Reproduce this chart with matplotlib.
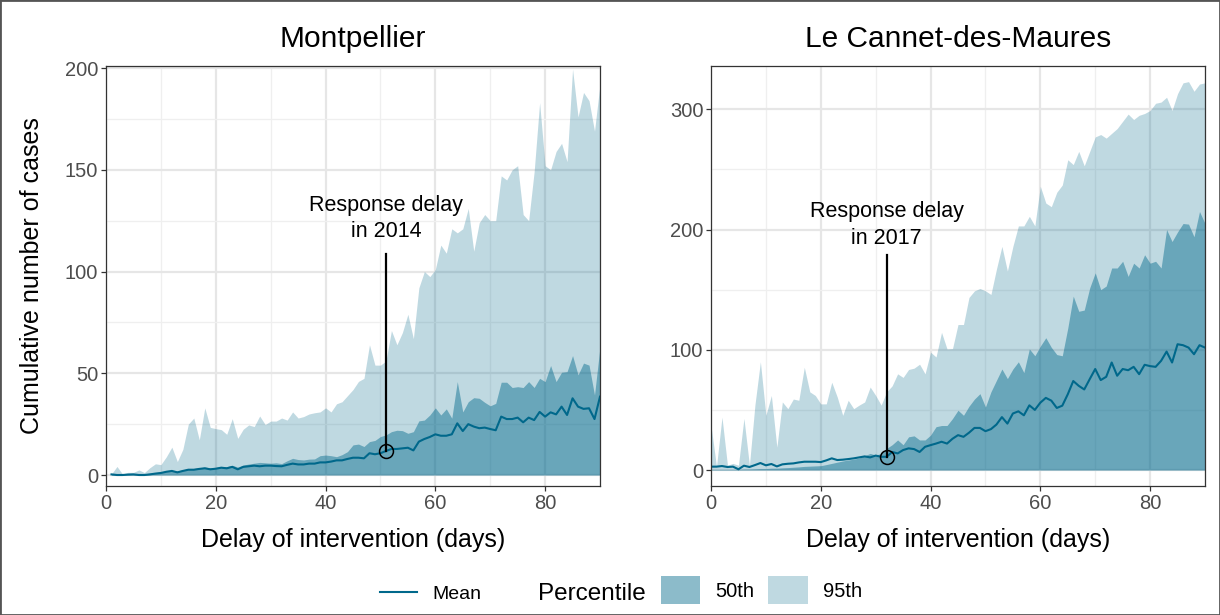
import numpy as np
import matplotlib.pyplot as plt
from matplotlib.lines import Line2D
from matplotlib.patches import Patch, Rectangle

plt.rcParams['font.family'] = ['Liberation Sans', 'DejaVu Sans']

# Montpellier, jours 1..90
mtp_days = np.arange(1, 91)
mtp_mean = [0.3, 0, 0, 0.2, 0.3, 0, 0, 0.3, 0.7, 1.0,
            1.6, 2.0, 1.3, 2.0, 2.6, 2.6, 3.0, 3.3, 2.8, 3.1,
            3.6, 3.3, 4.0, 2.8, 4.0, 4.3, 4.6, 4.3, 4.6, 4.6,
            4.4, 4.3, 5.0, 5.6, 5.2, 5.2, 5.6, 5.6, 6.2, 6.2,
            6.6, 7.2, 7.2, 7.9, 8.5, 8.5, 8.2, 10.7, 10.2, 10.7,
            11.8, 12.8, 12.8, 13.1, 13.4, 12.1, 16.4, 17.7, 18.7, 20.0,
            19.3, 19.3, 20.0, 25.4, 21.6, 25.0, 23.8, 23.0, 23.3, 22.6,
            22.0, 28.7, 27.5, 27.5, 28.2, 25.9, 28.2, 27.0, 31.0, 28.7,
            30.8, 29.8, 33.6, 29.5, 37.7, 33.6, 32.5, 32.8, 27.5, 38.5]
mtp_p50 = [0.5, 0.5, 0.4, 0.6, 0.7, 0.7, 0.6, 0.9, 1.2, 1.6,
           2.0, 2.4, 2.0, 2.5, 3.1, 3.2, 3.5, 3.9, 3.5, 3.7,
           4.2, 4.1, 4.8, 3.9, 4.9, 5.4, 5.8, 6.2, 6.0, 5.8,
           6.0, 5.6, 7.0, 8.2, 7.6, 7.4, 7.8, 7.9, 9.5, 9.8,
           9.5, 9.0, 10.0, 11.5, 14.8, 15.2, 14.0, 16.4, 17.0, 18.9,
           19.7, 21.3, 22.0, 21.8, 20.5, 21.3, 26.6, 27.0, 29.5, 33.0,
           29.5, 32.5, 27.9, 45.9, 31.0, 36.0, 38.0, 37.7, 35.7, 34.0,
           35.2, 45.6, 45.6, 43.0, 43.4, 43.0, 45.9, 43.0, 47.5, 45.9,
           53.8, 45.9, 50.5, 50.8, 58.7, 49.2, 55.0, 54.0, 39.3, 63.0]
mtp_p95 = [0.5, 4.2, 0.5, 1.3, 1.3, 2.5, 1.2, 3.6, 5.5, 5.1,
           9.0, 13.7, 6.6, 12.6, 25.0, 28.0, 17.3, 33.0, 23.4, 22.8,
           22.3, 20.0, 27.7, 18.0, 22.5, 24.6, 23.8, 29.0, 24.8, 26.5,
           26.5, 28.0, 27.0, 31.0, 28.0, 28.7, 30.0, 30.6, 31.0, 33.0,
           31.0, 35.0, 36.0, 39.0, 42.0, 46.0, 47.5, 64.0, 54.0, 54.0,
           56.0, 71.0, 64.0, 70.0, 79.0, 67.0, 92.0, 100.0, 97.5, 101.0,
           113.0, 109.0, 121.0, 119.0, 121.0, 131.0, 110.0, 124.0, 128.0, 125.0,
           125.0, 147.0, 145.0, 150.0, 152.0, 128.0, 125.0, 149.0, 183.0, 152.0,
           150.0, 159.0, 163.0, 154.0, 199.5, 176.0, 188.0, 184.0, 169.0, 192.0]

# Le Cannet-des-Maures, jours 0..90
lcm_days = np.arange(0, 91)
lcm_mean = [2.8, 2.8, 3.3, 2.5, 2.8, 0.6, 3.6, 2.5, 4.1, 5.8,
            3.9, 5.0, 3.0, 4.7, 5.2, 5.5, 6.3, 6.9, 6.9, 6.9,
            6.6, 8.0, 9.7, 8.3, 8.6, 9.1, 9.7, 10.5, 11.3, 10.5,
            12.0, 11.0, 11.0, 15.0, 13.8, 16.6, 18.0, 17.4, 15.0, 19.3,
            20.7, 22.0, 23.5, 22.0, 26.0, 29.0, 27.6, 31.0, 35.0, 35.0,
            32.3, 34.0, 37.8, 44.0, 38.6, 47.0, 48.8, 45.5, 53.8, 50.0,
            56.0, 60.0, 57.7, 51.6, 53.5, 63.0, 74.0, 70.0, 67.0, 75.6,
            84.0, 74.8, 77.5, 89.4, 78.4, 84.0, 83.0, 85.8, 79.7, 87.5,
            86.4, 85.8, 90.8, 98.5, 89.4, 104.6, 103.8, 101.8, 96.3, 103.8, 101.8]
lcm_p50 = [0.5, 0.5, 0.5, 0.5, 0.5, 0.5, 0.8, 0.8, 1.0, 1.2,
           1.2, 1.5, 1.5, 1.8, 2.0, 2.3, 2.6, 3.0, 3.2, 3.4,
           3.6, 4.5, 5.5, 6.5, 7.5, 8.3, 9.0, 10.0, 11.9, 13.8,
           12.4, 13.8, 18.0, 21.0, 25.0, 21.0, 27.6, 28.4, 25.0, 25.0,
           29.0, 36.0, 37.0, 37.0, 42.8, 49.7, 45.5, 53.0, 59.0, 63.5,
           52.4, 65.0, 74.5, 84.0, 76.0, 84.0, 90.0, 81.0, 100.7, 95.0,
           103.0, 110.0, 102.0, 96.0, 95.0, 118.0, 144.6, 132.0, 133.0, 151.5,
           164.0, 150.0, 153.0, 168.0, 168.0, 173.6, 161.0, 172.0, 168.0, 179.0,
           172.0, 173.6, 168.0, 200.0, 190.0, 198.0, 205.0, 204.5, 194.0, 215.0, 205.0]
lcm_p95 = [37, 3, 44, 4, 5.5, 4, 43, 4, 54, 90,
           45.5, 62, 19, 56.6, 51, 59, 58, 85.5, 65, 62,
           55, 55, 73, 60.7, 45.5, 58, 51, 54, 56.6, 69,
           62, 54, 65, 70, 80, 77, 83.6, 84.7, 88, 80,
           98, 94, 114.5, 100.7, 101, 121, 121, 143.5, 149, 151,
           149, 146, 167, 186, 165.5, 186, 203, 203, 211, 203,
           236, 222, 219, 231, 237, 258, 254, 265, 253, 265,
           277, 279, 276, 280, 284, 290, 296, 291.5, 295, 296.5,
           299, 305, 306, 310, 299, 313, 322, 323, 315, 321, 322]

titles = ['Montpellier', 'Le Cannet-des-Maures']
resp_days = [51, 32]
resp_labels = ['Response delay\nin 2014', 'Response delay\nin 2017']

teal = '#00688B'
W, H = 1220, 615

fig = plt.figure(figsize=(W / 100, H / 100), dpi=100)
ax1 = fig.add_axes([106 / W, 129 / H, 494 / W, 420 / H])
ax2 = fig.add_axes([711 / W, 129 / H, 494 / W, 420 / H])


def panel(ax, days, p95, p50, mean, title, rday, rlabel, ylim, yticks, yminor, text_y, line_top):
    ax.fill_between(days, 0, p95, color=teal, alpha=0.25, lw=0)
    ax.fill_between(days, 0, p50, color=teal, alpha=0.45, lw=0)
    ax.plot(days, mean, color=teal, lw=1.5)
    m = mean[list(days).index(rday)]
    ax.plot([rday, rday], [m, line_top], color='black', lw=1.6)
    ax.plot([rday], [m], marker='o', ms=10, mfc='none', mec='black', mew=1.1)
    ax.text(rday, text_y, rlabel, ha='center', va='center', fontsize=15.5, linespacing=1.35)
    ax.set_xlim(0, 90)
    ax.set_ylim(*ylim)
    ax.set_xticks([0, 20, 40, 60, 80])
    ax.set_xticks([10, 30, 50, 70, 90], minor=True)
    ax.set_yticks(yticks)
    ax.set_yticks(yminor, minor=True)
    ax.set_axisbelow(True)
    ax.grid(which='major', color='#e6e6e6', lw=1.6)
    ax.grid(which='minor', color='#efefef', lw=0.9)
    for s in ax.spines.values():
        s.set_color('#333333')
        s.set_linewidth(0.9)
    ax.tick_params(which='major', length=3.5, width=0.9, color='#333333',
                   labelcolor='#4d4d4d', labelsize=14.5, pad=2)
    ax.tick_params(which='minor', length=0)
    ax.set_title(title, fontsize=21.5, pad=14)
    ax.set_xlabel('Delay of intervention (days)', fontsize=18)
    ax.xaxis.set_label_coords(0.5, -0.1)


panel(ax1, mtp_days, mtp_p95, mtp_p50, mtp_mean, titles[0], resp_days[0], resp_labels[0],
      (-5.4, 201), [0, 50, 100, 150, 200], [25, 75, 125, 175], 126, 108.8)
panel(ax2, lcm_days, lcm_p95, lcm_p50, lcm_mean, titles[1], resp_days[1], resp_labels[1],
      (-13.3, 336), [0, 100, 200, 300], [50, 150, 250], 204, 179)
ax1.set_ylabel('Cumulative number of cases', fontsize=18)
ax1.yaxis.set_label_coords(-0.125, 0.5)

fig.legend(handles=[Line2D([], [], color=teal, lw=1.5)], labels=['Mean'],
           loc='center left', bbox_to_anchor=(380 / W, 1 - 594 / H), frameon=False,
           fontsize=14, handlelength=1.9, handletextpad=0.8, borderpad=0, borderaxespad=0)
fig.text(538 / W, 1 - 594 / H, 'Percentile', fontsize=17.5, va='center', ha='left')
fig.legend(handles=[Patch(fc=teal, alpha=0.45, ec='none'), Patch(fc=teal, alpha=0.25, ec='none')],
           labels=['50th', '95th'], ncol=2, loc='center left', bbox_to_anchor=(661 / W, 1 - 590 / H),
           frameon=False, fontsize=14.5, handlelength=1.95, handleheight=1.7,
           handletextpad=0.75, columnspacing=0.7, borderpad=0, borderaxespad=0)

fig.patches.append(Rectangle((0, 0), 1, 1, transform=fig.transFigure, fill=False,
                             ec='#555555', lw=2))

fig.savefig('out.png', dpi=100)
